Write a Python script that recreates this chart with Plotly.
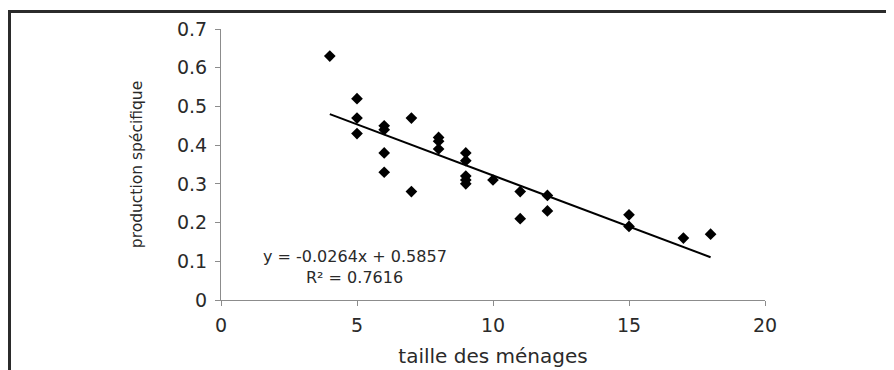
import plotly.graph_objects as go

# Data
taille = [4, 5, 5, 5, 6, 6, 6, 6, 7, 7, 8, 8, 8, 9, 9, 9, 9, 9, 10, 11, 11, 12, 12, 15, 15, 17, 18]
production = [0.63, 0.52, 0.47, 0.43, 0.45, 0.44, 0.38, 0.33, 0.47, 0.28,
              0.42, 0.41, 0.39, 0.38, 0.36, 0.32, 0.31, 0.30, 0.31, 0.28,
              0.21, 0.27, 0.23, 0.22, 0.19, 0.16, 0.17]
slope = -0.0264
intercept = 0.5857
r2 = 0.7616
trend_x = [min(taille), max(taille)]
trend_y = [slope * v + intercept for v in trend_x]

x_ticks = [0, 5, 10, 15, 20]
y_ticks = [0, 0.1, 0.2, 0.3, 0.4, 0.5, 0.6, 0.7]
y_tick_labels = ["0", "0.1", "0.2", "0.3", "0.4", "0.5", "0.6", "0.7"]

FONT = "DejaVu Sans"
TXT = "#2a2a2a"
AX = "#8c8c8c"

# page pixel positions of the plot area (page has an 8px body margin)
PL, PR, PT, PB = 221, 765, 29, 300
PW, PH = PR - PL, PB - PT


def px(xp):
    return (xp - PL) / PW


def py(yp):
    return (PB - yp) / PH


fig = go.Figure()
fig.add_trace(go.Scatter(
    x=taille, y=production, mode="markers",
    marker=dict(symbol="diamond", size=9, color="black"),
    showlegend=False, hoverinfo="x+y"))
fig.add_trace(go.Scatter(
    x=trend_x, y=trend_y, mode="lines",
    line=dict(color="black", width=2),
    showlegend=False, hoverinfo="skip"))

fig.update_layout(
    width=886, height=362,
    margin=dict(l=PL - 8, r=886 - (PR - 8), t=PT - 8, b=362 - (PB - 8)),
    paper_bgcolor="white", plot_bgcolor="white",
    font=dict(family=FONT, color=TXT),
    xaxis=dict(range=[0, 20], tickvals=x_ticks, ticks="outside", ticklen=5,
               tickcolor=AX, showline=True, linecolor=AX, linewidth=1,
               showgrid=False, zeroline=False, ticklabelstandoff=3,
               automargin=False,
               tickfont=dict(size=19, color=TXT),
               title=dict(text="taille des ménages", font=dict(size=20, color=TXT),
                          standoff=14)),
    yaxis=dict(range=[0, 0.7], tickvals=y_ticks, ticktext=y_tick_labels,
               ticks="outside", ticklen=5,
               tickcolor=AX, showline=True, linecolor=AX, linewidth=1,
               showgrid=False, zeroline=False, ticklabelstandoff=4,
               automargin=False,
               tickfont=dict(size=19, color=TXT),
               title=dict(text="production spécifique", font=dict(size=15.5, color=TXT),
                          standoff=30)),
)

fig.add_annotation(xref="paper", yref="paper", x=px(355), y=py(256),
                   xanchor="center", yanchor="middle",
                   text=f"y = {slope}x + {intercept}", showarrow=False,
                   font=dict(size=16, color=TXT))
fig.add_annotation(xref="paper", yref="paper", x=px(354), y=py(277),
                   xanchor="center", yanchor="middle",
                   text=f"R² = {r2}", showarrow=False,
                   font=dict(size=16, color=TXT))

# Outer frame (top and left edges)
fig.add_shape(type="line", xref="paper", yref="paper",
              x0=px(8), x1=px(900), y0=py(11.5), y1=py(11.5),
              line=dict(color="#2b2b2b", width=3))
fig.add_shape(type="line", xref="paper", yref="paper",
              x0=px(9.5), x1=px(9.5), y0=py(10), y1=py(380),
              line=dict(color="#2b2b2b", width=3))

fig.write_html("out.html")
